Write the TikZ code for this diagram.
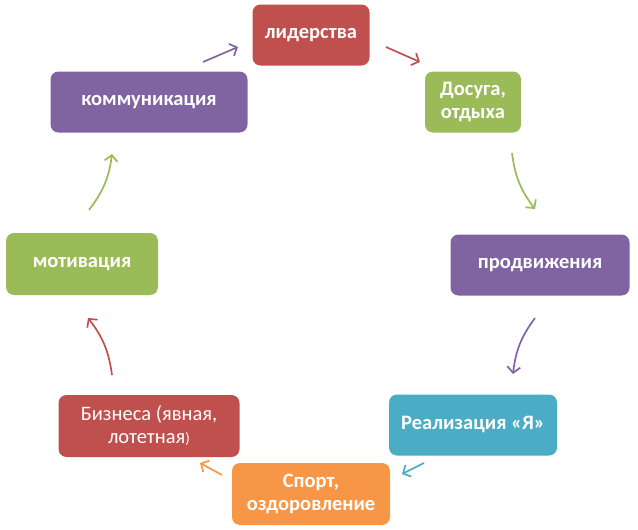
\documentclass[tikz,border=0pt]{standalone}
\usepackage{fontspec}
\setmainfont{Carlito}
\usetikzlibrary{arrows.meta}
\definecolor{cred}{HTML}{C0504D}
\definecolor{cgreen}{HTML}{9BBB59}
\definecolor{cpurple}{HTML}{8064A2}
\definecolor{cblue}{HTML}{4BACC6}
\definecolor{corange}{HTML}{F79646}
\tikzset{
  box/.style={rounded corners=8pt, text=white, align=center, inner sep=0pt,
    minimum height=61pt, font=\fontsize{20.5}{23}\selectfont\bfseries},
  flow/.style={line width=1.7pt, -{Straight Barb[length=6pt,width=13pt,line width=1.7pt]}},
}
\begin{document}
\begin{tikzpicture}[x=1pt,y=-1pt]
  \useasboundingbox (0,0) rectangle (638,530);

  % ボックス
  \node[box, fill=cred, minimum width=117pt] (lider) at (311,35) {лидерства};
  \node[box, fill=cgreen, minimum width=96pt] (dosug) at (473,102) {Досуга,\\отдыха};
  \node[box, fill=cpurple, minimum width=179pt] (prod) at (540,265) {продвижения};
  \node[box, fill=cblue, minimum width=168pt] (real) at (473,425) {Реализация «Я»};
  \node[box, fill=corange, minimum width=158pt, minimum height=62pt] (sport) at (311,494) {Спорт,\\оздоровление};
  \node[box, fill=cred, minimum width=181pt, minimum height=62pt,
    font=\fontsize{20.5}{23}\selectfont] (biz) at (149,426) {Бизнеса (явная,\\лотетная{\fontsize{15}{23}\selectfont)}};
  \node[box, fill=cgreen, minimum width=152pt, minimum height=62pt] (motiv) at (82,264) {мотивация};
  \node[box, fill=cpurple, minimum width=197pt] (komm) at (149,102) {коммуникация};

  % 矢印の端点
  \coordinate (a1) at (203,62);  \coordinate (b1) at (238,47);
  \coordinate (a2) at (386,47);  \coordinate (b2) at (420,62);
  \coordinate (a3) at (512,153); \coordinate (b3) at (535,209);
  \coordinate (a4) at (535,318); \coordinate (b4) at (513,374);
  \coordinate (a5) at (424,463); \coordinate (b5) at (402,474);
  \coordinate (a6) at (222,475); \coordinate (b6) at (200,463);
  \coordinate (a7) at (112,375); \coordinate (b7) at (88,318);
  \coordinate (a8) at (89,210);  \coordinate (b8) at (112,154);

  % 矢印
  \draw[flow, cpurple] (a1) -- (b1);
  \draw[flow, cred] (a2) -- (b2);
  \draw[flow, cgreen] (a3) to[bend right=15] (b3);
  \draw[flow, cpurple] (a4) to[bend right=15] (b4);
  \draw[flow, cblue] (a5) -- (b5);
  \draw[flow, corange] (a6) -- (b6);
  \draw[flow, cred] (a7) to[bend right=15] (b7);
  \draw[flow, cgreen] (a8) to[bend right=15] (b8);
\end{tikzpicture}
\end{document}
